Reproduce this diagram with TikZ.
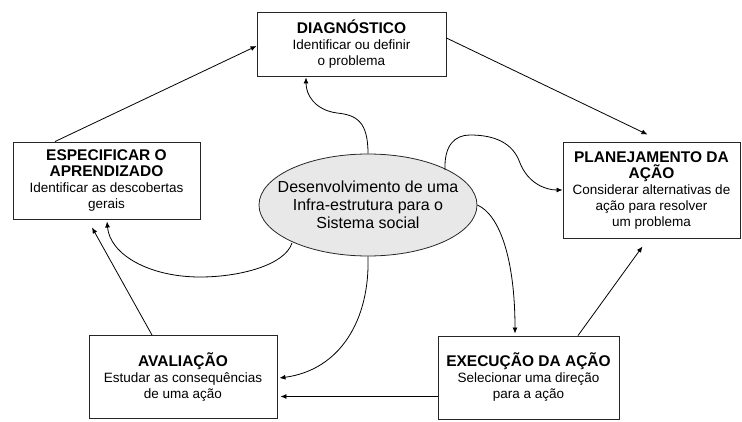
\documentclass[tikz,border=0pt]{standalone}
\usepackage{fontspec}
\setmainfont{Liberation Sans}
\usetikzlibrary{arrows.meta,shapes.geometric,calc}
\newcommand\boxtitle[1]{{\fontsize{15.5}{17.5}\selectfont\bfseries #1}}
\begin{document}
\begin{tikzpicture}[x=1pt,y=-1pt,
  box/.style={draw=black!85,line width=0.9pt,rectangle,inner sep=0pt,align=center,
    font=\fontsize{13.5}{16}\selectfont},
  arr/.style={line width=0.8pt,-{Latex[length=6pt,width=5pt]}},
  ellbox/.style={ellipse,draw=black!85,line width=0.8pt,fill=gray!18,inner sep=0pt}]
\useasboundingbox (0,0) rectangle (742,421);
% boxes
\node[box,minimum width=189pt,minimum height=64pt] (diag) at (351.5,44)
  {\boxtitle{DIAGNÓSTICO}\\Identificar ou definir\\o problema};
\node[box,minimum width=187pt,minimum height=77pt] (esp) at (106.5,180.5)
  {\boxtitle{ESPECIFICAR O}\\\boxtitle{APRENDIZADO}\\Identificar as descobertas\\gerais};
\node[box,minimum width=177pt,minimum height=96pt] (plan) at (651.5,190)
  {\boxtitle{PLANEJAMENTO DA}\\\boxtitle{AÇÃO}\\Considerar alternativas de\\ação para resolver\\um problema};
\node[box,minimum width=188pt,minimum height=83pt] (aval) at (183,377)
  {\boxtitle{AVALIAÇÃO}\\Estudar as consequências\\de uma ação};
\node[box,minimum width=181pt,minimum height=83pt] (exec) at (528.5,377.5)
  {\boxtitle{EXECUÇÃO DA AÇÃO}\\Selecionar uma direção\\para a ação};
% ellipse
\node[ellbox,minimum width=218pt,minimum height=102pt] (ell) at (368,205) {};
\node[align=center,inner sep=0pt,font=\fontsize{16}{18}\selectfont] (elltext) at (ell.center)
  {Desenvolvimento de uma\\Infra-estrutura para o\\Sistema social};
% straight connectors
\coordinate (q) at ($(exec.west)+(0,19)$);
\draw[arr] ($(esp.north)+(-51.5,0)$) -- ($(diag.west)+(0,2)$);
\draw[arr] ($(diag.east)+(0,-6)$) -- ($(plan.north)+(-4,-7)$);
\draw[arr] ($(exec.north)+(49.5,0)$) -- ($(plan.south)+(-9,8)$);
\draw[arr] (q) -- ($(q -| aval.east)+(3,0)$);
\draw[arr] ($(aval.north)+(-31,0)$) -- ($(esp.south)+(-14.5,8)$);
% curved connectors from the ellipse
\draw[arr] (ell.north) .. controls (368,122) and (357,115) .. (337,113)
  .. controls (315,110) and (306,95) .. ($(diag.south)+(-45.5,1)$);
\draw[arr] ($(ell.center)+(77,-35)$) .. controls (444,145) and (455,135) .. (470,135)
  .. controls (495,135) and (513,143) .. (520,163)
  .. controls (528,183) and (545,190) .. (plan.west);
\draw[arr] (ell.east) .. controls (500,215) and (515,260) .. ($(exec.north)+(-13.5,-2)$);
\draw[arr] (ell.south) .. controls (370,320) and (340,370) .. ($(aval.east)+(2,1)$);
\draw[arr] ($(ell.center)+(-76,38)$) .. controls (285,265) and (240,277) .. (200,277)
  .. controls (150,277) and (110,255) .. ($(esp.south)+(0.5,2)$);
\end{tikzpicture}
\end{document}
